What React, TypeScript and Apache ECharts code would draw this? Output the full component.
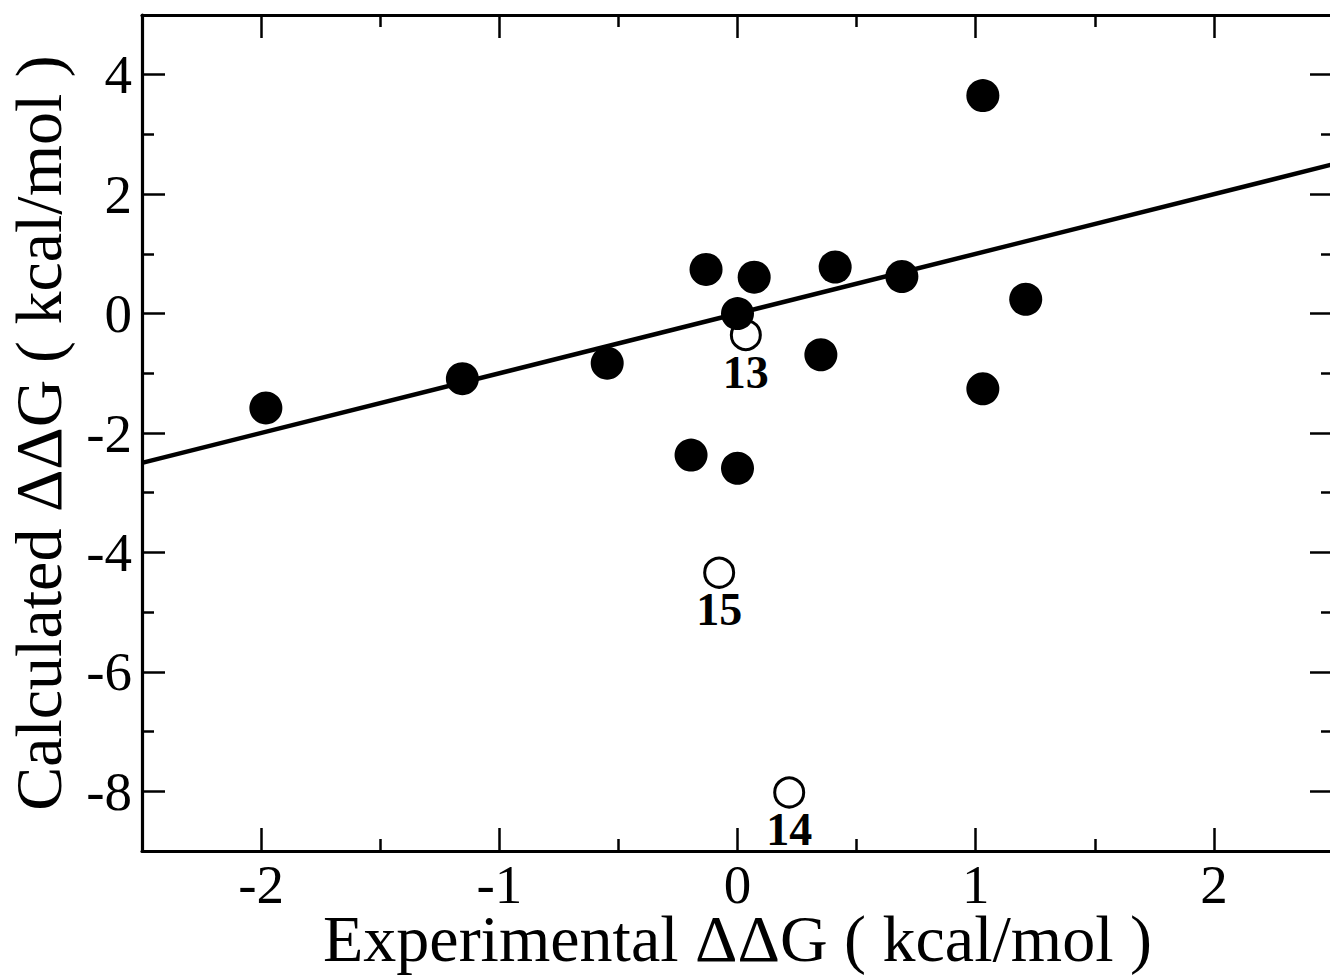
import React, { useEffect, useRef } from "react";
import * as echarts from "echarts";

// Filled circles: experimental vs calculated ΔΔG (kcal/mol)
const filledX = [-1.98, -1.155, -0.547, -0.132, 0.0, 0.07, 0.41, 0.35, 0.69, 1.03, 1.21, 1.03, -0.195, 0.0];
const filledY = [-1.58, -1.09, -0.83, 0.74, 0.0, 0.61, 0.78, -0.69, 0.62, 3.65, 0.24, -1.26, -2.37, -2.59];

// Open circles (outliers) with their labels
const openX = [0.035, -0.077, 0.217];
const openY = [-0.36, -4.34, -8.02];
const openLabels = ["13", "15", "14"];

// Fitted line end points
const fitX = [-2.5, 2.5];
const fitY = [-2.5, 2.5];

const xMin = -2.5;
const xMax = 2.5;
const yMin = -9;
const yMax = 5;

const xTitle = "Experimental ΔΔG ( kcal/mol )";
const yTitle = "Calculated ΔΔG ( kcal/mol )";

const FONT = "Liberation Serif";

export default function App() {
  const ref = useRef<HTMLDivElement>(null);

  useEffect(() => {
    if (!ref.current) return;
    const chart = echarts.init(ref.current, null, { renderer: "svg" });

    const lineStyle = { color: "#000", width: 3.2 };
    const tickCommon = {
      show: true,
      inside: true,
      length: 23,
      lineStyle: { color: "#000", width: 2.5 },
    };
    const minorCommon = {
      show: true,
      splitNumber: 2,
      length: 12,
      lineStyle: { color: "#000", width: 2.5 },
    };

    const option: any = {
      animation: false,
      backgroundColor: "#fff",
      textStyle: { fontFamily: FONT, color: "#000" },
      grid: {
        left: 142,
        top: 15,
        width: 1191,
        height: 836,
        containLabel: false,
        outerBoundsMode: "none",
      },
      xAxis: [
        {
          type: "value",
          min: xMin,
          max: xMax,
          splitNumber: 5,
          position: "bottom",
          axisLine: { show: true, onZero: false, lineStyle },
          axisTick: tickCommon,
          minorTick: minorCommon,
          splitLine: { show: false },
          axisLabel: {
            show: true,
            margin: 13,
            fontSize: 55,
            lineHeight: 40,
            fontFamily: FONT,
            color: "#000",
            showMinLabel: false,
            showMaxLabel: false,
            formatter: (v: number) => (Number.isInteger(v) ? String(v) : ""),
          },
          name: xTitle,
          nameLocation: "middle",
          nameGap: 62,
          nameMoveOverlap: false,
          nameTextStyle: { fontSize: 66, lineHeight: 50, fontFamily: FONT, color: "#000" },
        },
        {
          type: "value",
          min: xMin,
          max: xMax,
          splitNumber: 5,
          position: "top",
          axisLine: { show: true, onZero: false, lineStyle },
          axisTick: tickCommon,
          minorTick: minorCommon,
          splitLine: { show: false },
          axisLabel: { show: false },
        },
      ],
      yAxis: [
        {
          type: "value",
          min: yMin,
          max: yMax,
          splitNumber: 7,
          position: "left",
          axisLine: { show: true, onZero: false, lineStyle },
          axisTick: tickCommon,
          minorTick: minorCommon,
          splitLine: { show: false },
          axisLabel: {
            show: true,
            margin: 10,
            fontSize: 55,
            fontFamily: FONT,
            color: "#000",
            showMinLabel: false,
            showMaxLabel: false,
            formatter: (v: number) => (Number.isInteger(v) && v % 2 === 0 ? String(v) : ""),
          },
          name: yTitle,
          nameLocation: "middle",
          nameGap: 71,
          nameMoveOverlap: false,
          nameTextStyle: { fontSize: 66, fontFamily: FONT, color: "#000" },
        },
        {
          type: "value",
          min: yMin,
          max: yMax,
          splitNumber: 7,
          position: "right",
          axisLine: { show: true, onZero: false, lineStyle },
          axisTick: tickCommon,
          minorTick: minorCommon,
          splitLine: { show: false },
          axisLabel: { show: false },
        },
      ],
      series: [
        {
          type: "line",
          xAxisIndex: 0,
          yAxisIndex: 0,
          data: fitX.map((x, i) => [x, fitY[i]]),
          symbol: "none",
          lineStyle: { color: "#000", width: 4.5, opacity: 1 },
          z: 2,
          silent: true,
        },
        {
          type: "scatter",
          xAxisIndex: 0,
          yAxisIndex: 0,
          data: openX.map((x, i) => ({ value: [x, openY[i]], name: openLabels[i] })),
          symbol: "circle",
          symbolSize: 29,
          itemStyle: { color: "#fff", borderColor: "#000", borderWidth: 3, opacity: 1 },
          label: {
            show: true,
            position: "bottom",
            distance: -2,
            formatter: (p: any) => p.name,
            fontSize: 46,
            fontWeight: "bold",
            fontFamily: FONT,
            color: "#000",
            opacity: 1,
          },
          z: 3,
        },
        {
          type: "scatter",
          xAxisIndex: 0,
          yAxisIndex: 0,
          data: filledX.map((x, i) => [x, filledY[i]]),
          symbol: "circle",
          symbolSize: 33,
          itemStyle: { color: "#000", opacity: 1 },
          z: 4,
        },
      ],
    };

    chart.setOption(option);
    return () => chart.dispose();
  }, []);

  return (
    <div
      ref={ref}
      style={{ position: "absolute", left: 0, top: 0, width: 1330, height: 975, background: "#fff" }}
    />
  );
}
